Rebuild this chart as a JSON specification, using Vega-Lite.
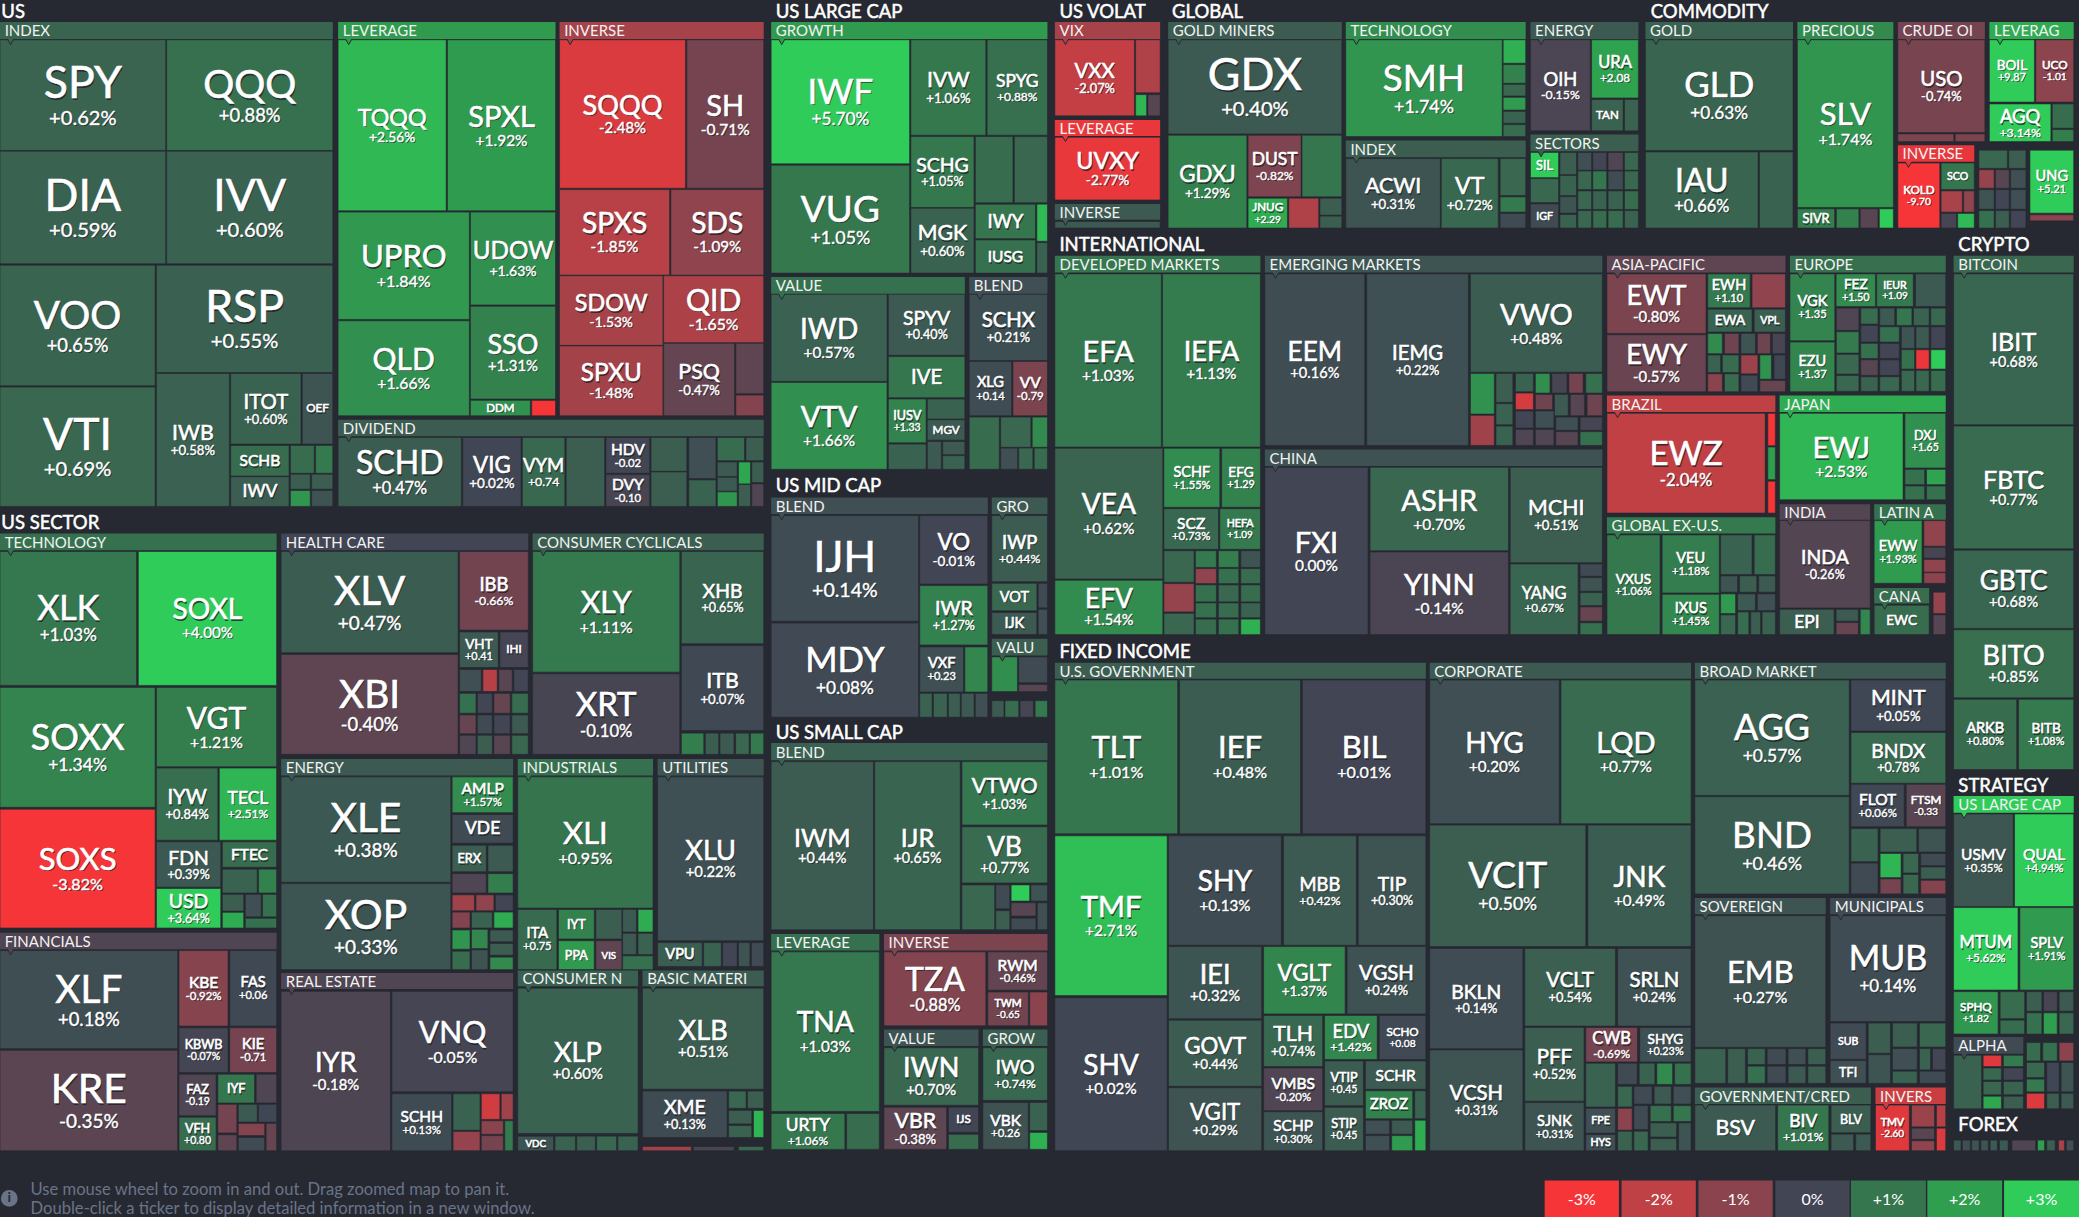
{"$schema":"https://vega.github.io/schema/vega-lite/v6.json","width":2079,"height":1217,"padding":0,"autosize":{"type":"none"},"background":"#262931","config":{"view":{"stroke":null},"font":"Lato"},
"datasets":{
"tiles":[
{"n":"SPY","p":"+0.62%","v":0.62,"x":0,"xe":125,"y":30,"ye":113.5,"s":46},
{"n":"QQQ","p":"+0.88%","v":0.88,"x":125.7,"xe":251,"y":30,"ye":113.5,"s":40},
{"n":"DIA","p":"+0.59%","v":0.59,"x":0,"xe":125,"y":114,"ye":199,"s":46},
{"n":"IVV","p":"+0.60%","v":0.6,"x":125.7,"xe":251,"y":114,"ye":199,"s":46},
{"n":"VOO","p":"+0.65%","v":0.65,"x":0,"xe":117,"y":200,"ye":291,"s":40},
{"n":"RSP","p":"+0.55%","v":0.55,"x":118,"xe":251,"y":200,"ye":281,"s":46},
{"n":"VTI","p":"+0.69%","v":0.69,"x":0,"xe":117,"y":292,"ye":382,"s":46},
{"n":"IWB","p":"+0.58%","v":0.58,"x":118,"xe":173,"y":281.7,"ye":382,"s":22},
{"n":"ITOT","p":"+0.60%","v":0.6,"x":174,"xe":227,"y":281.7,"ye":335,"s":21},
{"n":"OEF","v":0.3,"x":228,"xe":251,"y":281.7,"ye":335,"s":12},
{"n":"SCHB","v":0.8,"x":174,"xe":218,"y":336,"ye":359,"s":16},
{"v":0.8,"x":219,"xe":237,"y":336,"ye":357},
{"v":1.1,"x":238,"xe":251,"y":336,"ye":357},
{"n":"IWV","v":0.5,"x":174,"xe":218,"y":359.7,"ye":382,"s":18},
{"v":0.5,"x":219,"xe":234,"y":357.7,"ye":369},
{"v":1.8,"x":219,"xe":234,"y":370,"ye":382},
{"v":0.5,"x":235,"xe":251,"y":357.7,"ye":369},
{"v":0.3,"x":235,"xe":251,"y":370,"ye":382},
{"n":"TQQQ","p":"+2.56%","v":2.56,"x":255,"xe":336.5,"y":30,"ye":159,"s":24},
{"n":"SPXL","p":"+1.92%","v":1.92,"x":337.5,"xe":419,"y":30,"ye":159,"s":30},
{"n":"UPRO","p":"+1.84%","v":1.84,"x":255,"xe":354,"y":160,"ye":241,"s":32},
{"n":"QLD","p":"+1.66%","v":1.66,"x":255,"xe":354,"y":242,"ye":313.6,"s":31},
{"n":"UDOW","p":"+1.63%","v":1.63,"x":354.8,"xe":419,"y":160,"ye":230,"s":25},
{"n":"SSO","p":"+1.31%","v":1.31,"x":354.8,"xe":419,"y":231,"ye":301,"s":28},
{"n":"DDM","v":1.7,"x":354.8,"xe":400,"y":302,"ye":313.6,"s":12},
{"v":-3,"x":401,"xe":419,"y":302,"ye":313.6},
{"n":"SQQQ","p":"-2.48%","v":-2.48,"x":422,"xe":517,"y":30,"ye":142,"s":28},
{"n":"SH","p":"-0.71%","v":-0.71,"x":518,"xe":576,"y":30,"ye":142,"s":30},
{"n":"SPXS","p":"-1.85%","v":-1.85,"x":422,"xe":505,"y":143,"ye":207.5,"s":29},
{"n":"SDS","p":"-1.09%","v":-1.09,"x":506,"xe":576,"y":143,"ye":207.5,"s":29},
{"n":"SDOW","p":"-1.53%","v":-1.53,"x":422,"xe":500,"y":208,"ye":260.5,"s":24},
{"n":"QID","p":"-1.65%","v":-1.65,"x":500.5,"xe":576,"y":208,"ye":258.5,"s":31},
{"n":"SPXU","p":"-1.48%","v":-1.48,"x":422,"xe":500,"y":261,"ye":313.6,"s":25},
{"n":"PSQ","p":"-0.47%","v":-0.47,"x":500.5,"xe":554,"y":259,"ye":313.6,"s":22},
{"v":-0.4,"x":555,"xe":576,"y":259,"ye":297},
{"v":-0.9,"x":555,"xe":576,"y":298,"ye":313.6},
{"n":"SCHD","p":"+0.47%","v":0.47,"x":255,"xe":348,"y":330,"ye":382,"s":33},
{"n":"VIG","p":"+0.02%","v":0.02,"x":349,"xe":393,"y":330,"ye":382,"s":23},
{"n":"VYM","p":"+0.74","v":0.74,"x":394,"xe":426,"y":330,"ye":382,"s":19},
{"v":0.5,"x":427,"xe":456,"y":330,"ye":382},
{"n":"HDV","p":"-0.02","v":-0.02,"x":457,"xe":490,"y":330,"ye":357,"s":16},
{"n":"DVY","p":"-0.10","v":-0.1,"x":457,"xe":490,"y":358,"ye":382,"s":16},
{"v":0.5,"x":491,"xe":518,"y":330,"ye":355.5},
{"v":0.5,"x":491,"xe":518,"y":356,"ye":382},
{"v":0.2,"x":519.5,"xe":540,"y":330,"ye":361},
{"v":0.6,"x":519.5,"xe":540,"y":362,"ye":382},
{"v":0.8,"x":541,"xe":561.5,"y":330,"ye":347.5},
{"v":0.5,"x":562.6,"xe":576,"y":330,"ye":347.5},
{"v":0.4,"x":541,"xe":556,"y":348.5,"ye":359.5},
{"v":0.4,"x":541,"xe":556,"y":360,"ye":370.5},
{"v":1.8,"x":541,"xe":556,"y":371,"ye":382},
{"v":2.2,"x":557,"xe":566,"y":348.5,"ye":365},
{"v":0.5,"x":557,"xe":566,"y":365.5,"ye":382},
{"v":0.5,"x":567,"xe":576,"y":348.5,"ye":364},
{"v":-0.2,"x":567,"xe":576,"y":365,"ye":382},
{"n":"IWF","p":"+5.70%","v":5.7,"x":581.6,"xe":686,"y":30,"ye":123.6,"s":36},
{"n":"VUG","p":"+1.05%","v":1.05,"x":581.6,"xe":686,"y":124.6,"ye":206,"s":38},
{"n":"IVW","p":"+1.06%","v":1.06,"x":687,"xe":743.5,"y":30,"ye":102,"s":22},
{"n":"SPYG","p":"+0.88%","v":0.88,"x":744.5,"xe":790,"y":30,"ye":102,"s":18},
{"n":"SCHG","p":"+1.05%","v":1.05,"x":687,"xe":734.6,"y":103,"ye":156.5,"s":20},
{"n":"MGK","p":"+0.60%","v":0.6,"x":687,"xe":734.6,"y":157,"ye":206,"s":22},
{"v":0.8,"x":735.6,"xe":764,"y":103,"ye":153},
{"v":0.7,"x":765,"xe":790,"y":103,"ye":153},
{"n":"IWY","v":1.0,"x":735.6,"xe":781,"y":154,"ye":180,"s":19},
{"v":2.6,"x":782,"xe":790,"y":154,"ye":182},
{"n":"IUSG","v":0.9,"x":735.6,"xe":781,"y":181,"ye":206,"s":16},
{"v":0.6,"x":782,"xe":790,"y":183,"ye":206},
{"n":"IWD","p":"+0.57%","v":0.57,"x":581.6,"xe":669,"y":222,"ye":287.7,"s":29},
{"n":"VTV","p":"+1.66%","v":1.66,"x":581.6,"xe":669,"y":288.5,"ye":354,"s":30},
{"n":"SPYV","p":"+0.40%","v":0.4,"x":670,"xe":727.7,"y":222,"ye":268,"s":20},
{"n":"IVE","v":1.0,"x":670,"xe":727.7,"y":269,"ye":300,"s":21},
{"n":"IUSV","p":"+1.33","v":1.33,"x":670,"xe":698.5,"y":301,"ye":334,"s":13},
{"v":0.6,"x":670,"xe":698.5,"y":335,"ye":354},
{"v":0.6,"x":699.4,"xe":727.7,"y":301,"ye":316},
{"n":"MGV","v":0.4,"x":699.4,"xe":727.7,"y":316.6,"ye":332,"s":12},
{"v":0.4,"x":699.4,"xe":710,"y":333,"ye":354},
{"v":0.4,"x":711,"xe":727.7,"y":333,"ye":343},
{"v":0.6,"x":711,"xe":727.7,"y":343.7,"ye":354},
{"n":"SCHX","p":"+0.21%","v":0.21,"x":731,"xe":790,"y":222,"ye":272,"s":21},
{"n":"XLG","p":"+0.14","v":0.14,"x":731,"xe":763,"y":272.6,"ye":313.6,"s":15},
{"n":"VV","p":"-0.79","v":-0.79,"x":764,"xe":790,"y":272.6,"ye":313.6,"s":16},
{"v":0.8,"x":731,"xe":753.7,"y":314.6,"ye":354},
{"v":0.7,"x":754.7,"xe":777.5,"y":314.6,"ye":337.4},
{"v":1.5,"x":778.5,"xe":790,"y":314.6,"ye":337.4},
{"v":0.2,"x":754.7,"xe":767.5,"y":338,"ye":354},
{"v":0.7,"x":768.3,"xe":779,"y":338,"ye":354},
{"v":0.8,"x":780,"xe":790,"y":338,"ye":354},
{"n":"VXX","p":"-2.07%","v":-2.07,"x":795.6,"xe":855.6,"y":30,"ye":87.4,"s":21},
{"v":-1.7,"x":856.5,"xe":875,"y":30,"ye":70},
{"v":2.5,"x":856.5,"xe":864.8,"y":71.4,"ye":87.4},
{"v":-0.3,"x":865.8,"xe":875,"y":71.4,"ye":87.4},
{"n":"UVXY","p":"-2.77%","v":-2.77,"x":795.6,"xe":875,"y":103.5,"ye":150.8,"s":24},
{"v":0.4,"x":795.6,"xe":875,"y":167,"ye":172},
{"n":"GDX","p":"+0.40%","v":0.4,"x":881,"xe":1012,"y":30,"ye":101,"s":46},
{"n":"GDXJ","p":"+1.29%","v":1.29,"x":881,"xe":940.4,"y":102,"ye":172,"s":23},
{"n":"DUST","p":"-0.82%","v":-0.82,"x":941.3,"xe":981.3,"y":102,"ye":148.5,"s":18},
{"v":1.0,"x":982,"xe":1012,"y":102,"ye":148.5},
{"n":"JNUG","p":"+2.29","v":2.29,"x":941.3,"xe":971,"y":149.5,"ye":172,"s":12},
{"v":-1.7,"x":972,"xe":994.6,"y":149.5,"ye":172},
{"v":0.5,"x":995.5,"xe":1012,"y":149.5,"ye":162.3},
{"v":0.5,"x":995.5,"xe":1012,"y":163,"ye":172},
{"n":"SMH","p":"+1.74%","v":1.74,"x":1015,"xe":1133,"y":30,"ye":103,"s":38},
{"v":2.4,"x":1133.7,"xe":1150.7,"y":30,"ye":47.7},
{"v":1.3,"x":1133.7,"xe":1150.7,"y":48.7,"ye":62.8},
{"v":0.7,"x":1133.7,"xe":1150.7,"y":63.6,"ye":72.4},
{"v":1.9,"x":1133.7,"xe":1150.7,"y":73.4,"ye":83},
{"v":0.6,"x":1133.7,"xe":1150.7,"y":84,"ye":93},
{"v":0.8,"x":1133.7,"xe":1150.7,"y":94,"ye":103},
{"n":"ACWI","p":"+0.31%","v":0.31,"x":1015,"xe":1086.3,"y":119.6,"ye":172,"s":22},
{"n":"VT","p":"+0.72%","v":0.72,"x":1087,"xe":1130,"y":119.6,"ye":172,"s":24},
{"v":0.7,"x":1131.4,"xe":1150.7,"y":119.6,"ye":147.5},
{"v":1.1,"x":1131.4,"xe":1150.7,"y":148.5,"ye":160},
{"v":0.1,"x":1131.4,"xe":1150.7,"y":161,"ye":172},
{"n":"OIH","p":"-0.15%","v":-0.15,"x":1154.3,"xe":1199.4,"y":30,"ye":98.7,"s":19},
{"n":"URA","p":"+2.08","v":2.08,"x":1200.4,"xe":1235.7,"y":30,"ye":73.9,"s":17},
{"n":"TAN","v":0.6,"x":1200.4,"xe":1224.2,"y":75,"ye":98.7,"s":12},
{"v":0.6,"x":1225.2,"xe":1235.7,"y":75,"ye":98.7},
{"n":"SIL","v":3,"x":1154.3,"xe":1175.5,"y":115,"ye":134,"s":13},
{"v":0.7,"x":1154.3,"xe":1175.5,"y":134.7,"ye":152.8},
{"n":"IGF","v":0.1,"x":1154.3,"xe":1175.5,"y":153.8,"ye":172,"s":11},
{"v":0.5,"x":1176.5,"xe":1189,"y":115,"ye":131.7},
{"v":0.6,"x":1176.5,"xe":1189,"y":132.4,"ye":147.5},
{"v":0.3,"x":1176.5,"xe":1189,"y":148.3,"ye":160.8},
{"v":0.6,"x":1176.5,"xe":1189,"y":161.8,"ye":172},
{"v":0.2,"x":1190,"xe":1200.4,"y":115,"ye":128.4},
{"v":0.0,"x":1201.3,"xe":1211.8,"y":115,"ye":128.4},
{"v":-0.2,"x":1212.8,"xe":1224.2,"y":115,"ye":128.4},
{"v":0.7,"x":1225.2,"xe":1235.7,"y":115,"ye":128.4},
{"v":0.7,"x":1190,"xe":1200.4,"y":129,"ye":143},
{"v":1.0,"x":1201.3,"xe":1211.8,"y":129,"ye":143},
{"v":0.15,"x":1212.8,"xe":1224.2,"y":129,"ye":143},
{"v":0.7,"x":1225.2,"xe":1235.7,"y":129,"ye":143},
{"v":0.7,"x":1190,"xe":1200.4,"y":144,"ye":158},
{"v":0.6,"x":1201.3,"xe":1211.8,"y":144,"ye":158},
{"v":0.6,"x":1212.8,"xe":1224.2,"y":144,"ye":158},
{"v":0.8,"x":1225.2,"xe":1235.7,"y":144,"ye":158},
{"v":0.7,"x":1190,"xe":1200.4,"y":158.8,"ye":172},
{"v":0.8,"x":1201.3,"xe":1211.8,"y":158.8,"ye":172},
{"v":0.8,"x":1212.8,"xe":1224.2,"y":158.8,"ye":172},
{"v":0.6,"x":1225.2,"xe":1235.7,"y":158.8,"ye":172},
{"n":"GLD","p":"+0.63%","v":0.63,"x":1241,"xe":1352.3,"y":30,"ye":113.6,"s":36},
{"n":"IAU","p":"+0.66%","v":0.66,"x":1241,"xe":1326,"y":114.6,"ye":172,"s":33},
{"v":0.6,"x":1327,"xe":1352.3,"y":114.6,"ye":172},
{"n":"SLV","p":"+1.74%","v":1.74,"x":1355.6,"xe":1428,"y":30,"ye":156.5,"s":32},
{"n":"SIVR","v":1.2,"x":1355.6,"xe":1383.7,"y":157.5,"ye":172,"s":13},
{"v":1.3,"x":1385,"xe":1402,"y":157.5,"ye":172},
{"v":-0.3,"x":1403,"xe":1416.4,"y":157.5,"ye":172},
{"v":3,"x":1417.4,"xe":1428,"y":157.5,"ye":172},
{"n":"USO","p":"-0.74%","v":-0.74,"x":1431.4,"xe":1497,"y":30,"ye":100,"s":21},
{"v":-0.8,"x":1431.4,"xe":1473.6,"y":101,"ye":106.8},
{"v":-0.8,"x":1474.6,"xe":1497,"y":101,"ye":106.8},
{"n":"BOIL","p":"+9.87","v":9.87,"x":1500.4,"xe":1534.4,"y":30,"ye":77,"s":14},
{"n":"UCO","p":"-1.01","v":-1.01,"x":1535.4,"xe":1564,"y":30,"ye":77,"s":12},
{"n":"AGQ","p":"+3.14%","v":3.14,"x":1500.4,"xe":1546.8,"y":78.4,"ye":106.8,"s":19},
{"v":0.8,"x":1547.8,"xe":1564,"y":78.4,"ye":96.7},
{"v":1.2,"x":1547.8,"xe":1564,"y":97.7,"ye":106.8},
{"n":"KOLD","p":"-9.70","v":-9.7,"x":1431.4,"xe":1463,"y":123,"ye":172,"s":12},
{"n":"SCO","v":1.0,"x":1464,"xe":1489,"y":123,"ye":143,"s":11},
{"v":-1.6,"x":1464,"xe":1480,"y":144,"ye":160},
{"v":-1.1,"x":1481,"xe":1489,"y":144,"ye":160},
{"v":-0.1,"x":1464,"xe":1475.6,"y":161,"ye":172},
{"v":2.6,"x":1476.5,"xe":1489,"y":161,"ye":172},
{"v":0.7,"x":1492.5,"xe":1514,"y":113.3,"ye":127},
{"v":0.5,"x":1515,"xe":1528,"y":113.3,"ye":127},
{"v":-1.2,"x":1492.5,"xe":1504,"y":128,"ye":142},
{"v":-0.3,"x":1505,"xe":1515.4,"y":128,"ye":142},
{"v":0.2,"x":1516.4,"xe":1528,"y":128,"ye":142},
{"v":0.3,"x":1492.5,"xe":1504,"y":143,"ye":157.8},
{"v":0.0,"x":1505,"xe":1515.4,"y":143,"ye":157.8},
{"v":0.2,"x":1516.4,"xe":1528,"y":143,"ye":157.8},
{"v":0.9,"x":1492.5,"xe":1504,"y":158.8,"ye":172},
{"v":0.5,"x":1505,"xe":1515.4,"y":158.8,"ye":172},
{"v":0.0,"x":1516.4,"xe":1528,"y":158.8,"ye":172},
{"n":"UNG","p":"+5.21","v":5.21,"x":1531,"xe":1564,"y":113.3,"ye":160.8,"s":15},
{"v":-1.0,"x":1531,"xe":1564,"y":162,"ye":166.6},
{"n":"EFA","p":"+1.03%","v":1.03,"x":795.6,"xe":875.9,"y":206.6,"ye":337.2,"s":30},
{"n":"IEFA","p":"+1.13%","v":1.13,"x":876.8,"xe":950.6,"y":206.6,"ye":337.2,"s":28},
{"n":"VEA","p":"+0.62%","v":0.62,"x":795.6,"xe":877,"y":338.2,"ye":436.7,"s":29},
{"n":"EFV","p":"+1.54%","v":1.54,"x":795.6,"xe":877,"y":437.7,"ye":478.7,"s":27},
{"n":"SCHF","p":"+1.55%","v":1.55,"x":877.8,"xe":920,"y":338.2,"ye":382.7,"s":15},
{"n":"EFG","p":"+1.29","v":1.29,"x":921.4,"xe":950.6,"y":338.2,"ye":382.7,"s":14},
{"n":"SCZ","p":"+0.73%","v":0.73,"x":877.8,"xe":919,"y":383.7,"ye":414.4,"s":16},
{"n":"HEFA","p":"+1.09","v":1.09,"x":920,"xe":950.6,"y":383.7,"ye":414.4,"s":11},
{"v":0.7,"x":877.8,"xe":900.6,"y":415.4,"ye":439.2},
{"v":-1.2,"x":877.8,"xe":900.6,"y":440.2,"ye":461.6},
{"v":0.7,"x":877.8,"xe":900.6,"y":462.6,"ye":478.7},
{"v":1.1,"x":901.6,"xe":917.4,"y":415.4,"ye":428},
{"v":1.2,"x":918.9,"xe":934.3,"y":415.4,"ye":428},
{"v":0.3,"x":935.8,"xe":950.6,"y":415.4,"ye":428},
{"v":-1.1,"x":901.6,"xe":917.4,"y":428.9,"ye":440.2},
{"v":0.9,"x":918.9,"xe":934.3,"y":428.9,"ye":440.2},
{"v":0.8,"x":935.8,"xe":950.6,"y":428.9,"ye":440.2},
{"v":0.9,"x":901.6,"xe":917.4,"y":441.2,"ye":454},
{"v":0.7,"x":918.9,"xe":934.3,"y":441.2,"ye":454},
{"v":0.8,"x":935.8,"xe":950.6,"y":441.2,"ye":454},
{"v":0.9,"x":901.6,"xe":917.4,"y":454.8,"ye":466},
{"v":0.8,"x":918.9,"xe":934.3,"y":454.8,"ye":466},
{"v":0.6,"x":935.8,"xe":950.6,"y":454.8,"ye":466},
{"v":0.8,"x":901.6,"xe":917.4,"y":467,"ye":478.7},
{"v":0.9,"x":918.9,"xe":934.3,"y":467,"ye":478.7},
{"v":2.4,"x":935.8,"xe":950.6,"y":467,"ye":478.7},
{"n":"EEM","p":"+0.16%","v":0.16,"x":954,"xe":1029.3,"y":206.6,"ye":336,"s":27},
{"n":"IEMG","p":"+0.22%","v":0.22,"x":1030.8,"xe":1107.5,"y":206.6,"ye":336,"s":21},
{"n":"VWO","p":"+0.48%","v":0.48,"x":1109,"xe":1208.5,"y":206.6,"ye":280.7,"s":30},
{"v":1.7,"x":1109,"xe":1127,"y":281.7,"ye":312.3},
{"v":-1.4,"x":1109,"xe":1127,"y":313.3,"ye":336},
{"v":0.5,"x":1128.3,"xe":1141,"y":281.7,"ye":303.5},
{"v":0.6,"x":1128.3,"xe":1141,"y":304.5,"ye":320.4},
{"v":0.6,"x":1128.3,"xe":1141,"y":321.4,"ye":336},
{"v":0.6,"x":1143,"xe":1156.5,"y":281.7,"ye":295.5},
{"v":-2.4,"x":1143,"xe":1156.5,"y":296.5,"ye":309},
{"v":0.0,"x":1143,"xe":1156.5,"y":310,"ye":322.9},
{"v":-0.2,"x":1143,"xe":1156.5,"y":323.9,"ye":336},
{"v":1.6,"x":1158,"xe":1169,"y":281.7,"ye":296.5},
{"v":-0.1,"x":1170.4,"xe":1181.8,"y":281.7,"ye":296.5},
{"v":-0.7,"x":1183.3,"xe":1194,"y":281.7,"ye":296.5},
{"v":0.9,"x":1196,"xe":1208.5,"y":281.7,"ye":296.5},
{"v":-0.6,"x":1158,"xe":1171,"y":297.5,"ye":309},
{"v":0.2,"x":1158,"xe":1172,"y":310,"ye":322.9},
{"v":-0.2,"x":1158,"xe":1172,"y":323.9,"ye":336},
{"v":0.4,"x":1172.4,"xe":1182.8,"y":297.5,"ye":313.6},
{"v":-0.3,"x":1184.3,"xe":1195,"y":297.5,"ye":313.6},
{"v":-0.6,"x":1197,"xe":1208.5,"y":297.5,"ye":313.6},
{"v":0.2,"x":1173.4,"xe":1190.2,"y":314.6,"ye":324.6},
{"v":-0.3,"x":1173.4,"xe":1190.2,"y":325.6,"ye":336},
{"v":-0.05,"x":1191.7,"xe":1208.5,"y":314.6,"ye":324.6},
{"v":0.9,"x":1191.7,"xe":1208.5,"y":325.6,"ye":336},
{"n":"FXI","p":"0.00%","v":0,"x":954,"xe":1031.8,"y":352.5,"ye":478.7,"s":30},
{"n":"ASHR","p":"+0.70%","v":0.7,"x":1033.3,"xe":1137.7,"y":352.5,"ye":415.4,"s":30},
{"n":"YINN","p":"-0.14%","v":-0.14,"x":1033.3,"xe":1137.7,"y":416.4,"ye":478.7,"s":30},
{"n":"MCHI","p":"+0.51%","v":0.51,"x":1139,"xe":1208.5,"y":352.5,"ye":424.4,"s":22},
{"n":"YANG","p":"+0.67%","v":0.67,"x":1139,"xe":1190.2,"y":425.4,"ye":478.7,"s":17},
{"v":0.1,"x":1191.7,"xe":1208.5,"y":425.4,"ye":434.7},
{"v":0.3,"x":1191.7,"xe":1208.5,"y":435.7,"ye":446},
{"v":0.6,"x":1191.7,"xe":1208.5,"y":447,"ye":456.8},
{"v":-0.5,"x":1191.7,"xe":1208.5,"y":457.8,"ye":468.6},
{"v":0.9,"x":1191.7,"xe":1208.5,"y":469.8,"ye":478.7},
{"n":"EWT","p":"-0.80%","v":-0.8,"x":1212,"xe":1286.7,"y":206.6,"ye":251.5,"s":28},
{"n":"EWY","p":"-0.57%","v":-0.57,"x":1212,"xe":1286.7,"y":252.5,"ye":295.5,"s":28},
{"n":"EWH","p":"+1.10","v":1.1,"x":1288,"xe":1320,"y":206.6,"ye":232.2,"s":15},
{"v":-1.1,"x":1321.4,"xe":1346.6,"y":206.6,"ye":232.2},
{"n":"EWA","v":0.6,"x":1288,"xe":1321.4,"y":233.2,"ye":250.5,"s":14},
{"n":"VPL","v":0.5,"x":1323,"xe":1346.6,"y":233.2,"ye":250.5,"s":11},
{"v":1.5,"x":1288,"xe":1299,"y":251.5,"ye":266.8},
{"v":-0.6,"x":1300.6,"xe":1311.5,"y":251.5,"ye":266.8},
{"v":0.3,"x":1313,"xe":1324,"y":251.5,"ye":266.8},
{"v":-0.6,"x":1325.4,"xe":1335.3,"y":251.5,"ye":266.8},
{"v":-0.1,"x":1336.7,"xe":1346.6,"y":251.5,"ye":266.8},
{"v":0.6,"x":1288,"xe":1297.7,"y":267.8,"ye":281},
{"v":0.8,"x":1299,"xe":1311.5,"y":267.8,"ye":281},
{"v":-1.3,"x":1313,"xe":1325.8,"y":267.8,"ye":282},
{"v":1.7,"x":1327.3,"xe":1336,"y":267.8,"ye":286},
{"v":0.05,"x":1338,"xe":1346.6,"y":267.8,"ye":286},
{"v":-1.0,"x":1288,"xe":1299,"y":282,"ye":295.5},
{"v":0.8,"x":1300.6,"xe":1311.5,"y":282,"ye":295.5},
{"v":0.1,"x":1313,"xe":1325.8,"y":283,"ye":295.5},
{"v":-0.5,"x":1327.3,"xe":1346.6,"y":287,"ye":295.5},
{"n":"VGK","p":"+1.35","v":1.35,"x":1350,"xe":1383.8,"y":206.6,"ye":257,"s":15},
{"n":"EZU","p":"+1.37","v":1.37,"x":1350,"xe":1383.8,"y":258,"ye":295.5,"s":15},
{"n":"FEZ","p":"+1.50","v":1.5,"x":1384.8,"xe":1414.5,"y":206.6,"ye":231.2,"s":14},
{"n":"IEUR","p":"+1.09","v":1.09,"x":1415.4,"xe":1443,"y":206.6,"ye":231.2,"s":11},
{"v":0.4,"x":1444.7,"xe":1467.5,"y":206.6,"ye":231.2},
{"v":-0.2,"x":1385,"xe":1402,"y":232.4,"ye":249.2},
{"v":1.1,"x":1385,"xe":1402,"y":250.2,"ye":266.3},
{"v":0.7,"x":1385,"xe":1402,"y":267.3,"ye":282.2},
{"v":0.7,"x":1385,"xe":1402,"y":283.2,"ye":295.2},
{"v":0.8,"x":1403.4,"xe":1416.4,"y":232.4,"ye":244.5},
{"v":0.0,"x":1403.4,"xe":1416.4,"y":245.5,"ye":258},
{"v":0.9,"x":1403.4,"xe":1416.4,"y":259,"ye":270.4},
{"v":-0.3,"x":1403.4,"xe":1416.4,"y":271.4,"ye":283.2},
{"v":0.6,"x":1403.4,"xe":1416.4,"y":284.2,"ye":295.2},
{"v":0.4,"x":1417.7,"xe":1429,"y":232.4,"ye":245.5},
{"v":0.9,"x":1417.7,"xe":1432.5,"y":246.5,"ye":258},
{"v":0.0,"x":1417.7,"xe":1432.5,"y":259,"ye":270.4},
{"v":0.0,"x":1417.7,"xe":1432.5,"y":271.4,"ye":283.2},
{"v":0.7,"x":1417.7,"xe":1432.5,"y":284.2,"ye":295.2},
{"v":1.0,"x":1430.4,"xe":1442,"y":232.4,"ye":245.5},
{"v":0.6,"x":1443.2,"xe":1455,"y":232.4,"ye":245.5},
{"v":0.7,"x":1456.2,"xe":1467.5,"y":232.4,"ye":245.5},
{"v":0.3,"x":1434,"xe":1444,"y":246.5,"ye":262.8},
{"v":0.4,"x":1445,"xe":1455,"y":246.5,"ye":262.8},
{"v":0.0,"x":1456.2,"xe":1467.5,"y":246.5,"ye":262.8},
{"v":0.9,"x":1434,"xe":1444,"y":263.8,"ye":278.4},
{"v":-2.8,"x":1445,"xe":1455,"y":263.8,"ye":278.4},
{"v":3,"x":1456.2,"xe":1467.5,"y":263.8,"ye":278.4},
{"v":0.7,"x":1434,"xe":1444,"y":279.4,"ye":295.2},
{"v":0.7,"x":1445,"xe":1455,"y":279.4,"ye":295.2},
{"v":0.8,"x":1456.2,"xe":1467.5,"y":279.4,"ye":295.2},
{"n":"EWZ","p":"-2.04%","v":-2.04,"x":1212,"xe":1331.3,"y":311.8,"ye":387,"s":34},
{"v":-3,"x":1333.3,"xe":1339,"y":311.8,"ye":336.2},
{"v":2,"x":1333.3,"xe":1339,"y":337.2,"ye":361.8},
{"v":-3,"x":1333.3,"xe":1339,"y":363,"ye":387},
{"n":"EWJ","p":"+2.53%","v":2.53,"x":1342.2,"xe":1435.3,"y":311.8,"ye":377,"s":30},
{"n":"DXJ","p":"+1.65","v":1.65,"x":1436.7,"xe":1467.5,"y":311.8,"ye":353,"s":13},
{"v":0.9,"x":1436.7,"xe":1451.6,"y":354,"ye":365.6},
{"v":0.9,"x":1436.7,"xe":1451.6,"y":366.6,"ye":377},
{"v":2.1,"x":1453,"xe":1467.5,"y":354,"ye":365.6},
{"v":0.9,"x":1453,"xe":1467.5,"y":366.6,"ye":377},
{"n":"VXUS","p":"+1.06%","v":1.06,"x":1212,"xe":1252,"y":403.5,"ye":478.7,"s":14},
{"n":"VEU","p":"+1.18%","v":1.18,"x":1253.6,"xe":1296.7,"y":403.5,"ye":447.3,"s":15},
{"n":"IXUS","p":"+1.45%","v":1.45,"x":1253.6,"xe":1296.7,"y":448.3,"ye":478.7,"s":15},
{"v":0.6,"x":1297.7,"xe":1321.4,"y":403.5,"ye":433.4},
{"v":0.8,"x":1323,"xe":1339,"y":403.5,"ye":433.4},
{"v":0.3,"x":1297.7,"xe":1310.5,"y":434.4,"ye":446.7},
{"v":0.5,"x":1312,"xe":1325,"y":434.4,"ye":446.7},
{"v":0.4,"x":1326.4,"xe":1339,"y":434.4,"ye":446.7},
{"v":1.9,"x":1297.7,"xe":1309,"y":448,"ye":462.8},
{"v":0.7,"x":1297.7,"xe":1309,"y":463.8,"ye":478.7},
{"v":0.4,"x":1310.5,"xe":1323.9,"y":448,"ye":460.6},
{"v":0.2,"x":1325.4,"xe":1339,"y":448,"ye":460.6},
{"v":0.8,"x":1310.5,"xe":1319,"y":461.6,"ye":478.7},
{"v":0.5,"x":1320.4,"xe":1327.8,"y":461.6,"ye":478.7},
{"v":0.6,"x":1329,"xe":1339,"y":461.6,"ye":478.7},
{"n":"INDA","p":"-0.26%","v":-0.26,"x":1342.2,"xe":1410.5,"y":392.7,"ye":458.6,"s":20},
{"n":"EPI","v":0.5,"x":1342.2,"xe":1383.3,"y":459.6,"ye":478.7,"s":18},
{"v":0.4,"x":1384.8,"xe":1401.6,"y":459.6,"ye":468.6},
{"v":-0.5,"x":1384.8,"xe":1401.6,"y":469.6,"ye":478.7},
{"v":1.4,"x":1403,"xe":1410.5,"y":459.6,"ye":478.7},
{"n":"EWW","p":"+1.93%","v":1.93,"x":1413.5,"xe":1449.6,"y":392.7,"ye":440,"s":15},
{"v":-1.1,"x":1451,"xe":1467.5,"y":392.7,"ye":412},
{"v":-0.1,"x":1451,"xe":1467.5,"y":412.8,"ye":421},
{"v":-1.1,"x":1451,"xe":1467.5,"y":422,"ye":431.5},
{"v":-1.0,"x":1451,"xe":1467.5,"y":432,"ye":440},
{"n":"EWC","v":0.8,"x":1413.5,"xe":1455,"y":456.5,"ye":478.7,"s":14},
{"v":-1.2,"x":1458,"xe":1467.5,"y":446.7,"ye":462.8},
{"v":-0.3,"x":1458,"xe":1467.5,"y":463.8,"ye":478.7},
{"n":"IBIT","p":"+0.68%","v":0.68,"x":1473.4,"xe":1564,"y":206.6,"ye":320.4,"s":26},
{"n":"FBTC","p":"+0.77%","v":0.77,"x":1473.4,"xe":1564,"y":321.4,"ye":414,"s":26},
{"n":"GBTC","p":"+0.68%","v":0.68,"x":1473.4,"xe":1564,"y":415,"ye":474,"s":27},
{"n":"BITO","p":"+0.85%","v":0.85,"x":1473.4,"xe":1564,"y":475,"ye":526.4,"s":28},
{"n":"ARKB","p":"+0.80%","v":0.8,"x":1473.4,"xe":1521,"y":527.5,"ye":580.5,"s":15},
{"n":"BITB","p":"+1.08%","v":1.08,"x":1522.4,"xe":1564,"y":527.5,"ye":580.5,"s":14},
{"n":"USMV","p":"+0.35%","v":0.35,"x":1473.4,"xe":1518.4,"y":614,"ye":683.8,"s":16},
{"n":"QUAL","p":"+4.94%","v":4.94,"x":1519.4,"xe":1564,"y":614,"ye":683.8,"s":16},
{"n":"MTUM","p":"+5.62%","v":5.62,"x":1473.4,"xe":1522,"y":684.6,"ye":746.8,"s":17},
{"n":"SPLV","p":"+1.91%","v":1.91,"x":1523.4,"xe":1564,"y":684.6,"ye":746.8,"s":15},
{"n":"SPHQ","p":"+1.82","v":1.82,"x":1473.4,"xe":1507,"y":748,"ye":780,"s":12},
{"v":0.8,"x":1508.5,"xe":1527,"y":748,"ye":768.4},
{"v":0.8,"x":1508.5,"xe":1527,"y":769.5,"ye":780},
{"v":0.5,"x":1528.4,"xe":1540,"y":748,"ye":762.8},
{"v":-0.1,"x":1541.2,"xe":1551.6,"y":748,"ye":762.8},
{"v":0.4,"x":1553,"xe":1564,"y":748,"ye":762.8},
{"v":0.9,"x":1528.4,"xe":1540,"y":764,"ye":780},
{"v":2,"x":1541.2,"xe":1551.6,"y":764,"ye":780},
{"v":0.7,"x":1553,"xe":1564,"y":764,"ye":780},
{"v":0.6,"x":1473.4,"xe":1494.5,"y":796,"ye":836.4},
{"v":-2.6,"x":1495.7,"xe":1509.5,"y":796,"ye":804.5},
{"v":1.1,"x":1511,"xe":1526,"y":796,"ye":804.5},
{"v":0.7,"x":1495.7,"xe":1509.5,"y":805.6,"ye":814.7},
{"v":0.0,"x":1511,"xe":1526,"y":805.6,"ye":814.7},
{"v":0.7,"x":1495.7,"xe":1509.5,"y":815.8,"ye":825.8},
{"v":0.6,"x":1511,"xe":1526,"y":815.8,"ye":825.8},
{"v":2.2,"x":1495.7,"xe":1509.5,"y":826.9,"ye":836.4},
{"v":0.5,"x":1511,"xe":1526,"y":826.9,"ye":836.4},
{"v":0.8,"x":1528.4,"xe":1539,"y":786.4,"ye":800.3},
{"v":0.9,"x":1540.7,"xe":1551.6,"y":786.4,"ye":800.3},
{"v":-1,"x":1553,"xe":1564,"y":786.4,"ye":800.3},
{"v":0.7,"x":1528.4,"xe":1542,"y":801.4,"ye":812.8},
{"v":1.1,"x":1528.4,"xe":1542,"y":814,"ye":823.6},
{"v":-2.5,"x":1528.4,"xe":1542,"y":824.7,"ye":836.4},
{"v":0.05,"x":1543.7,"xe":1553,"y":801.4,"ye":823.6},
{"v":0.3,"x":1554.5,"xe":1564,"y":801.4,"ye":823.6},
{"v":0.5,"x":1543.7,"xe":1553,"y":824.7,"ye":836.4},
{"v":0.4,"x":1554.5,"xe":1564,"y":824.7,"ye":836.4},
{"v":0.4,"x":1473.4,"xe":1479,"y":860,"ye":868},
{"v":0.2,"x":1480,"xe":1486,"y":860,"ye":868},
{"v":0.3,"x":1487,"xe":1492.7,"y":860,"ye":868},
{"v":0.3,"x":1494,"xe":1499.6,"y":860,"ye":868},
{"v":0.4,"x":1501,"xe":1506.4,"y":860,"ye":868},
{"v":0.4,"x":1508,"xe":1514.5,"y":860,"ye":868},
{"v":-0.2,"x":1517.4,"xe":1535.3,"y":860,"ye":868},
{"v":2,"x":1536.7,"xe":1542,"y":860,"ye":868},
{"v":0.5,"x":1543.7,"xe":1550,"y":860,"ye":868},
{"v":-1.6,"x":1552.6,"xe":1557,"y":860,"ye":868},
{"v":0.2,"x":1558.5,"xe":1564,"y":860,"ye":868},
{"n":"TLT","p":"+1.01%","v":1.01,"x":795.6,"xe":888.2,"y":513,"ye":629,"s":32},
{"n":"IEF","p":"+0.48%","v":0.48,"x":889.7,"xe":980.8,"y":513,"ye":629,"s":32},
{"n":"BIL","p":"+0.01%","v":0.01,"x":982.3,"xe":1075.4,"y":513,"ye":629,"s":32},
{"n":"TMF","p":"+2.71%","v":2.71,"x":795.6,"xe":880.3,"y":630.5,"ye":751,"s":30},
{"n":"SHV","p":"+0.02%","v":0.02,"x":795.6,"xe":880.3,"y":752.6,"ye":868,"s":29},
{"n":"SHY","p":"+0.13%","v":0.13,"x":881.3,"xe":966.4,"y":630.5,"ye":713,"s":29},
{"n":"MBB","p":"+0.42%","v":0.42,"x":968,"xe":1023,"y":630.5,"ye":713,"s":19},
{"n":"TIP","p":"+0.30%","v":0.3,"x":1024.4,"xe":1075.4,"y":630.5,"ye":713,"s":20},
{"n":"IEI","p":"+0.32%","v":0.32,"x":881.3,"xe":951.6,"y":714,"ye":768.4,"s":28},
{"n":"GOVT","p":"+0.44%","v":0.44,"x":881.3,"xe":951.6,"y":769.5,"ye":819.4,"s":23},
{"n":"VGIT","p":"+0.29%","v":0.29,"x":881.3,"xe":951.6,"y":820.5,"ye":868,"s":23},
{"n":"VGLT","p":"+1.37%","v":1.37,"x":953,"xe":1014.5,"y":714,"ye":764.8,"s":23},
{"n":"VGSH","p":"+0.24%","v":0.24,"x":1016,"xe":1075.4,"y":714,"ye":764.8,"s":21},
{"n":"TLH","p":"+0.74%","v":0.74,"x":953,"xe":997.6,"y":766,"ye":804.5,"s":22},
{"n":"EDV","p":"+1.42%","v":1.42,"x":999,"xe":1038.7,"y":766,"ye":799.2,"s":19},
{"n":"SCHO","p":"+0.08","v":0.08,"x":1040.2,"xe":1075.4,"y":766,"ye":799.2,"s":12},
{"n":"VMBS","p":"-0.20%","v":-0.2,"x":953,"xe":997.6,"y":805.6,"ye":837.8,"s":16},
{"n":"SCHP","p":"+0.30%","v":0.3,"x":953,"xe":997.6,"y":838.6,"ye":868,"s":16},
{"n":"VTIP","p":"+0.45","v":0.45,"x":999,"xe":1028.3,"y":800.3,"ye":834,"s":13},
{"n":"STIP","p":"+0.45","v":0.45,"x":999,"xe":1028.3,"y":835.3,"ye":868,"s":13},
{"n":"SCHR","v":0.4,"x":1029.8,"xe":1075.4,"y":800.3,"ye":821.7,"s":16},
{"n":"ZROZ","v":1.3,"x":1029.8,"xe":1065.5,"y":822.8,"ye":843.9,"s":15},
{"v":0.6,"x":1067,"xe":1075.4,"y":822.8,"ye":843.9},
{"v":0.2,"x":1029.8,"xe":1048,"y":845,"ye":855.5},
{"v":0.2,"x":1029.8,"xe":1048,"y":856.6,"ye":868},
{"v":0.4,"x":1049.6,"xe":1065.5,"y":845,"ye":855.5},
{"v":1.9,"x":1049.6,"xe":1065.5,"y":856.6,"ye":868},
{"v":2.3,"x":1067,"xe":1075.4,"y":845,"ye":868},
{"n":"HYG","p":"+0.20%","v":0.2,"x":1078.3,"xe":1176,"y":513,"ye":621.3,"s":29},
{"n":"LQD","p":"+0.77%","v":0.77,"x":1177.3,"xe":1275.4,"y":513,"ye":621.3,"s":30},
{"n":"VCIT","p":"+0.50%","v":0.5,"x":1078.3,"xe":1196,"y":622.4,"ye":714,"s":37},
{"n":"JNK","p":"+0.49%","v":0.49,"x":1197.6,"xe":1275.4,"y":622.4,"ye":714,"s":29},
{"n":"BKLN","p":"+0.14%","v":0.14,"x":1078.3,"xe":1148.6,"y":715.4,"ye":791,"s":20},
{"n":"VCSH","p":"+0.31%","v":0.31,"x":1078.3,"xe":1148.6,"y":792,"ye":868,"s":21},
{"n":"VCLT","p":"+0.54%","v":0.54,"x":1150,"xe":1218.4,"y":715.4,"ye":774,"s":21},
{"n":"SRLN","p":"+0.24%","v":0.24,"x":1220,"xe":1275.4,"y":715.4,"ye":774,"s":21},
{"n":"PFF","p":"+0.52%","v":0.52,"x":1150,"xe":1194.7,"y":775,"ye":830.6,"s":21},
{"n":"SJNK","p":"+0.31%","v":0.31,"x":1150,"xe":1194.7,"y":831.7,"ye":868,"s":15},
{"n":"CWB","p":"-0.69%","v":-0.69,"x":1196,"xe":1235,"y":775,"ye":801,"s":17},
{"n":"SHYG","p":"+0.23%","v":0.23,"x":1236.7,"xe":1275.4,"y":775,"ye":801,"s":14},
{"v":0.6,"x":1196,"xe":1218.4,"y":802,"ye":835},
{"n":"FPE","v":0.2,"x":1196,"xe":1218.4,"y":836,"ye":854.7,"s":11},
{"n":"HYS","v":0.2,"x":1196,"xe":1218.4,"y":855.8,"ye":868,"s":11},
{"v":0.1,"x":1220,"xe":1234.8,"y":802,"ye":818},
{"v":0.6,"x":1236.3,"xe":1248.1,"y":802,"ye":818},
{"v":1.5,"x":1249.6,"xe":1261.5,"y":802,"ye":818},
{"v":0.9,"x":1263,"xe":1275.4,"y":802,"ye":818},
{"v":0.7,"x":1220,"xe":1231,"y":819.4,"ye":835},
{"v":0.1,"x":1232.3,"xe":1246,"y":819.4,"ye":832.8},
{"v":0.4,"x":1247.6,"xe":1260.5,"y":819.4,"ye":832.8},
{"v":0.2,"x":1262,"xe":1275.4,"y":819.4,"ye":832.8},
{"v":-1,"x":1220,"xe":1231,"y":836,"ye":852.5},
{"v":0.6,"x":1220,"xe":1231,"y":853.3,"ye":868},
{"v":0.1,"x":1232.3,"xe":1243,"y":834,"ye":852},
{"v":0.7,"x":1232.3,"xe":1243,"y":853.3,"ye":868},
{"v":0.9,"x":1244.6,"xe":1260.5,"y":834,"ye":846},
{"v":1,"x":1262,"xe":1275.4,"y":834,"ye":846},
{"v":0.5,"x":1244.6,"xe":1264.5,"y":847,"ye":857.7},
{"v":0.5,"x":1244.6,"xe":1264.5,"y":858.9,"ye":868},
{"v":0.3,"x":1266,"xe":1275.4,"y":847,"ye":868},
{"n":"AGG","p":"+0.57%","v":0.57,"x":1278.3,"xe":1394.7,"y":513,"ye":600,"s":37},
{"n":"BND","p":"+0.46%","v":0.46,"x":1278.3,"xe":1394.7,"y":601,"ye":674.3,"s":38},
{"n":"MINT","p":"+0.05%","v":0.05,"x":1396,"xe":1467.5,"y":513,"ye":551.4,"s":22},
{"n":"BNDX","p":"+0.78%","v":0.78,"x":1396,"xe":1467.5,"y":552.5,"ye":590.8,"s":20},
{"n":"FLOT","p":"+0.06%","v":0.06,"x":1396,"xe":1436.2,"y":591.6,"ye":623.6,"s":16},
{"n":"FTSM","p":"-0.33","v":-0.33,"x":1437.7,"xe":1467.5,"y":591.6,"ye":623.6,"s":12},
{"v":0.6,"x":1396,"xe":1416.4,"y":625,"ye":650},
{"v":0.1,"x":1396,"xe":1416.4,"y":651,"ye":674.3},
{"v":0.5,"x":1418,"xe":1445.7,"y":625,"ye":642.7},
{"v":0.3,"x":1447,"xe":1467.5,"y":625,"ye":642.7},
{"v":2.5,"x":1418,"xe":1433.8,"y":643.8,"ye":662},
{"v":-0.7,"x":1418,"xe":1433.8,"y":663,"ye":674.3},
{"v":0.7,"x":1435.3,"xe":1447,"y":643.8,"ye":658.5},
{"v":0.7,"x":1435.3,"xe":1447,"y":659.6,"ye":674.3},
{"v":0.1,"x":1448.6,"xe":1467.5,"y":643.8,"ye":653},
{"v":0.5,"x":1448.6,"xe":1467.5,"y":654,"ye":663},
{"v":-0.9,"x":1448.6,"xe":1467.5,"y":664,"ye":674.3},
{"n":"EMB","p":"+0.27%","v":0.27,"x":1278.3,"xe":1377,"y":690.7,"ye":790,"s":32},
{"v":0.6,"x":1278.3,"xe":1301.6,"y":791,"ye":817.2},
{"v":0.5,"x":1303,"xe":1316.4,"y":791,"ye":817.2},
{"v":0.6,"x":1318,"xe":1331.3,"y":791,"ye":803},
{"v":0.9,"x":1318,"xe":1331.3,"y":804.2,"ye":817.2},
{"v":0.1,"x":1332.8,"xe":1347,"y":791,"ye":803},
{"v":0.1,"x":1332.8,"xe":1347,"y":804.2,"ye":817.2},
{"v":0.2,"x":1348.6,"xe":1362,"y":791,"ye":803},
{"v":0.4,"x":1348.6,"xe":1362,"y":804.2,"ye":817.2},
{"v":0.5,"x":1363.5,"xe":1377,"y":791,"ye":803},
{"v":0.5,"x":1363.5,"xe":1377,"y":804.2,"ye":817.2},
{"n":"MUB","p":"+0.14%","v":0.14,"x":1380.3,"xe":1467.5,"y":690.7,"ye":770.6,"s":35},
{"n":"SUB","v":0.1,"x":1380.3,"xe":1407.5,"y":771.7,"ye":799,"s":11},
{"n":"TFI","v":0.2,"x":1380.3,"xe":1407.5,"y":800,"ye":817.2,"s":13},
{"v":0.5,"x":1409,"xe":1425.8,"y":771.7,"ye":794.5},
{"v":0.3,"x":1409,"xe":1425.8,"y":795.6,"ye":817.2},
{"v":0.5,"x":1427.3,"xe":1446,"y":771.7,"ye":789.8},
{"v":0.2,"x":1427.3,"xe":1446,"y":791,"ye":807},
{"v":0.6,"x":1427.3,"xe":1446,"y":808,"ye":817.2},
{"v":0.7,"x":1447.7,"xe":1467.5,"y":771.7,"ye":789.8},
{"v":0.6,"x":1447.7,"xe":1456,"y":791,"ye":807},
{"v":0,"x":1457.5,"xe":1467.5,"y":791,"ye":807},
{"v":0.1,"x":1447.7,"xe":1467.5,"y":808,"ye":817.2},
{"n":"BSV","v":0.4,"x":1278.3,"xe":1339.2,"y":833.6,"ye":868,"s":22},
{"n":"BIV","p":"+1.01%","v":1.01,"x":1340.7,"xe":1379.3,"y":833.6,"ye":868,"s":18},
{"n":"BLV","v":0.5,"x":1381,"xe":1411,"y":833.6,"ye":854.4,"s":13},
{"v":0.4,"x":1381,"xe":1398,"y":855.5,"ye":868},
{"v":0.4,"x":1399.6,"xe":1411,"y":855.5,"ye":868},
{"n":"TMV","p":"-2.60","v":-2.6,"x":1414.5,"xe":1440,"y":833.6,"ye":868,"s":11},
{"v":-1.3,"x":1441.7,"xe":1459,"y":833.6,"ye":850},
{"v":-1.8,"x":1460.5,"xe":1467.5,"y":833.6,"ye":850},
{"v":-0.3,"x":1441.7,"xe":1459,"y":851,"ye":859.4},
{"v":-2.5,"x":1460.5,"xe":1467.5,"y":851,"ye":868},
{"v":-1.1,"x":1441.7,"xe":1459,"y":860.5,"ye":868},
{"n":"XLK","p":"+1.03%","v":1.03,"x":0,"xe":103,"y":416,"ye":517,"s":35},
{"n":"SOXL","p":"+4.00%","v":4,"x":104.3,"xe":208.6,"y":416,"ye":517,"s":29},
{"n":"SOXX","p":"+1.34%","v":1.34,"x":0,"xe":117,"y":518.5,"ye":609,"s":37},
{"n":"SOXS","p":"-3.82%","v":-3.82,"x":0,"xe":117,"y":610.4,"ye":700,"s":32},
{"n":"VGT","p":"+1.21%","v":1.21,"x":118,"xe":208.6,"y":518.5,"ye":578.4,"s":31},
{"n":"IYW","p":"+0.84%","v":0.84,"x":118,"xe":164.3,"y":579.4,"ye":633.8,"s":21},
{"n":"TECL","p":"+2.51%","v":2.51,"x":165.4,"xe":208.6,"y":579.4,"ye":633.8,"s":18},
{"n":"FDN","p":"+0.39%","v":0.39,"x":118,"xe":166.5,"y":635,"ye":669.2,"s":20},
{"n":"USD","p":"+3.64%","v":3.64,"x":118,"xe":166.5,"y":670.2,"ye":700,"s":20},
{"n":"FTEC","v":0.8,"x":167.7,"xe":208.6,"y":635,"ye":654.2,"s":16},
{"v":0.6,"x":167.7,"xe":194,"y":655.6,"ye":673.6},
{"v":1.3,"x":195,"xe":208.6,"y":655.6,"ye":673.6},
{"v":0.5,"x":167.7,"xe":183.8,"y":674.6,"ye":687.2},
{"v":2.3,"x":167.7,"xe":183.8,"y":688.2,"ye":700},
{"v":0.2,"x":185,"xe":197,"y":674.6,"ye":691.6},
{"v":0.9,"x":198,"xe":208.6,"y":674.6,"ye":691.6},
{"v":0.9,"x":185,"xe":208.6,"y":692.7,"ye":700},
{"n":"XLF","p":"+0.18%","v":0.18,"x":0,"xe":134,"y":717,"ye":791,"s":40},
{"n":"KRE","p":"-0.35%","v":-0.35,"x":0,"xe":134,"y":792.3,"ye":868,"s":42},
{"n":"KBE","p":"-0.92%","v":-0.92,"x":135,"xe":172,"y":717,"ye":774,"s":16},
{"n":"FAS","p":"+0.06","v":0.06,"x":173.3,"xe":208.6,"y":717,"ye":774,"s":15},
{"n":"KBWB","p":"-0.07%","v":-0.07,"x":135,"xe":172,"y":775.3,"ye":809,"s":13},
{"n":"KIE","p":"-0.71","v":-0.71,"x":173.3,"xe":208.6,"y":775.3,"ye":809,"s":15},
{"n":"FAZ","p":"-0.19","v":-0.19,"x":135,"xe":163,"y":810.3,"ye":841.6,"s":13},
{"n":"VFH","p":"+0.80","v":0.8,"x":135,"xe":163,"y":842.7,"ye":868,"s":13},
{"n":"IYF","v":1.0,"x":164.3,"xe":192,"y":810.3,"ye":832,"s":13},
{"v":-0.2,"x":193.2,"xe":208.6,"y":810.3,"ye":832},
{"v":-0.7,"x":164.3,"xe":178.6,"y":833,"ye":854.6},
{"v":-0.4,"x":164.3,"xe":178.6,"y":856,"ye":868},
{"v":0.4,"x":179.7,"xe":194,"y":833,"ye":846.4},
{"v":0.05,"x":195,"xe":208.6,"y":833,"ye":846.4},
{"v":-0.9,"x":179.7,"xe":199.6,"y":847.4,"ye":856.6},
{"v":0.1,"x":179.7,"xe":199.6,"y":858,"ye":868},
{"v":-0.5,"x":200.7,"xe":208.6,"y":847.4,"ye":868},
{"n":"XLV","p":"+0.47%","v":0.47,"x":212,"xe":345.5,"y":416,"ye":492.3,"s":42},
{"n":"XBI","p":"-0.40%","v":-0.4,"x":212,"xe":345.5,"y":493.7,"ye":569,"s":40},
{"n":"IBB","p":"-0.66%","v":-0.66,"x":346.6,"xe":398.4,"y":416,"ye":475.3,"s":19},
{"n":"VHT","p":"+0.41","v":0.41,"x":346.6,"xe":375.8,"y":476.7,"ye":503.5,"s":14},
{"n":"IHI","v":-0.05,"x":377,"xe":398.4,"y":476.7,"ye":503.5,"s":12},
{"v":0.2,"x":346.6,"xe":363,"y":505,"ye":521.6},
{"v":-1.8,"x":364.2,"xe":375,"y":505,"ye":521.6},
{"v":-0.3,"x":376.2,"xe":386.3,"y":505,"ye":521.6},
{"v":0,"x":387.5,"xe":398.4,"y":505,"ye":521.6},
{"v":0.9,"x":346.6,"xe":359,"y":523,"ye":538},
{"v":0,"x":360,"xe":371.3,"y":523,"ye":538},
{"v":-0.5,"x":372.5,"xe":384.8,"y":523,"ye":538},
{"v":0.8,"x":386,"xe":398.4,"y":523,"ye":538},
{"v":-0.5,"x":346.6,"xe":359,"y":539.3,"ye":553.5},
{"v":0.1,"x":360,"xe":371.3,"y":539.3,"ye":553.5},
{"v":0,"x":372.5,"xe":384.8,"y":539.3,"ye":553.5},
{"v":0.4,"x":386,"xe":398.4,"y":539.3,"ye":553.5},
{"v":-0.2,"x":346.6,"xe":359,"y":554.6,"ye":569},
{"v":0.5,"x":360,"xe":371.3,"y":554.6,"ye":569},
{"v":-0.3,"x":372.5,"xe":384.8,"y":554.6,"ye":569},
{"v":0.7,"x":386,"xe":398.4,"y":554.6,"ye":569},
{"n":"XLY","p":"+1.11%","v":1.11,"x":401.7,"xe":512.7,"y":416,"ye":507,"s":31},
{"n":"XRT","p":"-0.10%","v":-0.1,"x":401.7,"xe":512.7,"y":508.3,"ye":569,"s":34},
{"n":"XHB","p":"+0.65%","v":0.65,"x":513.9,"xe":576,"y":416,"ye":485.5,"s":20},
{"n":"ITB","p":"+0.07%","v":0.07,"x":513.9,"xe":576,"y":487,"ye":551,"s":22},
{"v":1.2,"x":513.9,"xe":530.8,"y":553,"ye":569},
{"v":0.5,"x":532,"xe":542,"y":553,"ye":569},
{"v":0.4,"x":543,"xe":553.6,"y":553,"ye":569},
{"v":0.7,"x":554.8,"xe":565,"y":553,"ye":569},
{"v":1.1,"x":566,"xe":576,"y":553,"ye":569},
{"n":"XLE","p":"+0.38%","v":0.38,"x":212,"xe":340,"y":586,"ye":665.5,"s":42},
{"n":"XOP","p":"+0.33%","v":0.33,"x":212,"xe":340,"y":666.5,"ye":731.4,"s":42},
{"n":"AMLP","p":"+1.57%","v":1.57,"x":341,"xe":387,"y":586,"ye":613,"s":16},
{"n":"VDE","v":0.1,"x":341,"xe":387,"y":614.4,"ye":636,"s":18},
{"n":"ERX","v":0.5,"x":341,"xe":366.8,"y":637.6,"ye":657.6,"s":13},
{"v":0.4,"x":368,"xe":387,"y":637.6,"ye":657.6},
{"v":-0.2,"x":341,"xe":366.8,"y":659,"ye":673.6},
{"v":1.2,"x":368,"xe":387,"y":659,"ye":673.6},
{"v":-1.4,"x":341,"xe":357.8,"y":675,"ye":687},
{"v":-1.1,"x":359,"xe":372.5,"y":675,"ye":687},
{"v":0,"x":373.6,"xe":387,"y":675,"ye":687},
{"v":-0.9,"x":341,"xe":354.5,"y":688,"ye":700},
{"v":0.6,"x":355.6,"xe":371.3,"y":688,"ye":700},
{"v":2.3,"x":372.5,"xe":387,"y":688,"ye":700},
{"v":1.8,"x":341,"xe":354.5,"y":701.5,"ye":716},
{"v":1.4,"x":355.6,"xe":368,"y":701,"ye":715.5},
{"v":0.4,"x":369.5,"xe":387,"y":701.5,"ye":710.4},
{"v":0.5,"x":369.5,"xe":387,"y":711.7,"ye":720.5},
{"v":0.8,"x":341,"xe":354.5,"y":717.5,"ye":731.4},
{"v":0.3,"x":355.6,"xe":368,"y":716.5,"ye":731.4},
{"v":1.5,"x":369.5,"xe":387,"y":722,"ye":731.4},
{"n":"IYR","p":"-0.18%","v":-0.18,"x":212,"xe":294.5,"y":747.8,"ye":868,"s":28},
{"n":"VNQ","p":"-0.05%","v":-0.05,"x":295.6,"xe":387,"y":747.8,"ye":823.6,"s":31},
{"n":"SCHH","p":"+0.13%","v":0.13,"x":295.6,"xe":340.6,"y":825,"ye":868,"s":16},
{"v":0.6,"x":341.7,"xe":362,"y":825,"ye":852.5},
{"v":-1.2,"x":341.7,"xe":362,"y":853.5,"ye":868},
{"v":-2.3,"x":363,"xe":377,"y":825,"ye":844.4},
{"v":-1.4,"x":378,"xe":387,"y":825,"ye":844.4},
{"v":-1,"x":363,"xe":379.6,"y":845.4,"ye":855.6},
{"v":-0.7,"x":363,"xe":379.6,"y":856.6,"ye":868},
{"v":1.1,"x":380.7,"xe":387,"y":845.4,"ye":868},
{"n":"XLI","p":"+0.95%","v":0.95,"x":390.5,"xe":492.5,"y":586,"ye":685,"s":32},
{"n":"ITA","p":"+0.75","v":0.75,"x":390.5,"xe":420,"y":686,"ye":731.4,"s":15},
{"n":"IYT","v":1.3,"x":421.2,"xe":448.2,"y":686,"ye":708.3,"s":13},
{"n":"PPA","v":1.9,"x":421.2,"xe":448.2,"y":709.6,"ye":731.4,"s":13},
{"n":"VIS","v":-0.4,"x":449.4,"xe":469,"y":709.6,"ye":731.4,"s":10},
{"v":0.5,"x":449.4,"xe":469,"y":686,"ye":708.3},
{"v":0.4,"x":469.6,"xe":480,"y":686,"ye":703},
{"v":2.3,"x":481.2,"xe":492.5,"y":686,"ye":703},
{"v":0.4,"x":469.6,"xe":480,"y":704,"ye":720},
{"v":0.6,"x":481.2,"xe":492.5,"y":704,"ye":720},
{"v":0.9,"x":469.6,"xe":492.5,"y":721,"ye":731.4},
{"n":"XLU","p":"+0.22%","v":0.22,"x":496,"xe":576,"y":586,"ye":709.6,"s":28},
{"n":"VPU","v":0.5,"x":496,"xe":529.6,"y":711,"ye":729,"s":15},
{"v":0.6,"x":530.7,"xe":544,"y":711,"ye":729},
{"v":0,"x":545,"xe":556,"y":711,"ye":729},
{"v":0.3,"x":557,"xe":565.6,"y":711,"ye":729},
{"v":0.1,"x":566.7,"xe":576,"y":711,"ye":729},
{"n":"XLP","p":"+0.60%","v":0.6,"x":390.5,"xe":481.2,"y":745.4,"ye":855,"s":28},
{"n":"VDC","v":0.3,"x":390.5,"xe":417.5,"y":857,"ye":868,"s":10},
{"v":0.6,"x":418.6,"xe":434,"y":857,"ye":868},
{"v":0.5,"x":435,"xe":449,"y":857,"ye":868},
{"v":0.7,"x":450,"xe":465,"y":857,"ye":868},
{"v":0.6,"x":466,"xe":481.2,"y":857,"ye":868},
{"n":"XLB","p":"+0.51%","v":0.51,"x":484.6,"xe":576,"y":745.4,"ye":821.6,"s":28},
{"n":"XME","p":"+0.13%","v":0.13,"x":484.6,"xe":548.4,"y":823,"ye":858,"s":20},
{"v":0.7,"x":549.5,"xe":562.7,"y":823,"ye":836},
{"v":0.5,"x":563.8,"xe":576,"y":823,"ye":836},
{"v":0.5,"x":549.5,"xe":567,"y":837.6,"ye":847.8},
{"v":0.6,"x":549.5,"xe":567,"y":849,"ye":858},
{"v":2.5,"x":568.3,"xe":576,"y":837.6,"ye":858},
{"v":-1.4,"x":484.6,"xe":521.4,"y":864.8,"ye":868},
{"v":-0.1,"x":523,"xe":553.6,"y":864.8,"ye":868},
{"v":0.7,"x":557,"xe":576,"y":864.8,"ye":868},
{"n":"IJH","p":"+0.14%","v":0.14,"x":581.6,"xe":692.8,"y":388.9,"ye":468.6,"s":44},
{"n":"MDY","p":"+0.08%","v":0.08,"x":581.6,"xe":692.8,"y":470,"ye":541,"s":36},
{"n":"VO","p":"-0.01%","v":-0.01,"x":693.7,"xe":745,"y":388.9,"ye":440.6,"s":23},
{"n":"IWR","p":"+1.27%","v":1.27,"x":693.7,"xe":745,"y":441.7,"ye":486.5,"s":20},
{"n":"VXF","p":"+0.23","v":0.23,"x":693.7,"xe":726.7,"y":488,"ye":522,"s":15},
{"v":1.4,"x":727.7,"xe":745,"y":488,"ye":522},
{"v":0.6,"x":693.7,"xe":703,"y":523,"ye":541},
{"v":0.6,"x":704,"xe":714.4,"y":523,"ye":541},
{"v":0.5,"x":715.3,"xe":724.2,"y":523,"ye":541},
{"v":0.4,"x":725,"xe":734.7,"y":523,"ye":541},
{"v":0.2,"x":735.6,"xe":745,"y":523,"ye":541},
{"n":"IWP","p":"+0.44%","v":0.44,"x":748,"xe":790,"y":388.9,"ye":438.8,"s":19},
{"n":"VOT","v":0.7,"x":748,"xe":782,"y":440,"ye":460.7,"s":15},
{"n":"IJK","v":0.4,"x":748,"xe":782,"y":462,"ye":478.6,"s":15},
{"v":0.1,"x":783,"xe":790,"y":440,"ye":458.5},
{"v":0.2,"x":783,"xe":790,"y":459.6,"ye":478.6},
{"v":1.6,"x":748,"xe":767.4,"y":495.5,"ye":521.7},
{"v":0.1,"x":768.3,"xe":790,"y":495.5,"ye":515},
{"v":-0.3,"x":768.3,"xe":790,"y":516.3,"ye":521.7},
{"v":0.4,"x":748,"xe":757.2,"y":528.5,"ye":541},
{"v":0.8,"x":758,"xe":768.3,"y":528.5,"ye":541},
{"v":-0.05,"x":769.3,"xe":779.4,"y":528.5,"ye":541},
{"v":1.1,"x":780.7,"xe":790,"y":528.5,"ye":541},
{"n":"IWM","p":"+0.44%","v":0.44,"x":581.6,"xe":658.8,"y":574.5,"ye":701.3,"s":26},
{"n":"IJR","p":"+0.65%","v":0.65,"x":659.7,"xe":724.2,"y":574.5,"ye":701.3,"s":26},
{"n":"VTWO","p":"+1.03%","v":1.03,"x":725.5,"xe":790,"y":574.5,"ye":622.3,"s":22},
{"n":"VB","p":"+0.77%","v":0.77,"x":725.5,"xe":790,"y":623.7,"ye":666,"s":27},
{"v":0.7,"x":725.5,"xe":750.2,"y":667.5,"ye":701.3},
{"v":0.1,"x":751,"xe":761.6,"y":667.5,"ye":685.5},
{"v":3,"x":762.6,"xe":776.6,"y":667.5,"ye":679.7},
{"v":0.3,"x":777.5,"xe":790,"y":667.5,"ye":679.7},
{"v":0.5,"x":751,"xe":761.6,"y":686.9,"ye":701.3},
{"v":-0.3,"x":762.6,"xe":781.3,"y":681,"ye":691},
{"v":0.1,"x":762.6,"xe":781.3,"y":692.6,"ye":701.3},
{"v":0.2,"x":782.3,"xe":790,"y":681,"ye":701.3},
{"n":"TNA","p":"+1.03%","v":1.03,"x":581.6,"xe":663.2,"y":718,"ye":838.4,"s":29},
{"n":"URTY","p":"+1.06%","v":1.06,"x":581.6,"xe":637.2,"y":839.9,"ye":867,"s":18},
{"v":0.8,"x":638.5,"xe":663.2,"y":839.9,"ye":867},
{"n":"TZA","p":"-0.88%","v":-0.88,"x":666.7,"xe":743.5,"y":718,"ye":773.8,"s":33},
{"n":"RWM","p":"-0.46%","v":-0.46,"x":745,"xe":790,"y":718,"ye":746.9,"s":16},
{"n":"TWM","p":"-0.65","v":-0.65,"x":745,"xe":775.6,"y":748.3,"ye":773.8,"s":11},
{"v":-1,"x":776.6,"xe":790,"y":748.3,"ye":773.8},
{"n":"IWN","p":"+0.70%","v":0.7,"x":666.7,"xe":738,"y":790.3,"ye":833.7,"s":28},
{"n":"VBR","p":"-0.38%","v":-0.38,"x":666.7,"xe":714,"y":835.2,"ye":867,"s":22},
{"n":"IJS","v":0,"x":715.3,"xe":738,"y":835.2,"ye":854.2,"s":12},
{"v":0.8,"x":715.3,"xe":738,"y":855.6,"ye":867},
{"n":"IWO","p":"+0.74%","v":0.74,"x":741.3,"xe":790,"y":790.3,"ye":830,"s":19},
{"n":"VBK","p":"+0.26","v":0.26,"x":741.3,"xe":775.6,"y":831.6,"ye":867,"s":16},
{"v":0.6,"x":776.6,"xe":790,"y":831.6,"ye":852.8},
{"v":2.4,"x":776.6,"xe":790,"y":854.2,"ye":867}
],
"groups":[
{"n":"INDEX","v":0.65,"x":0,"xe":251,"y":16.6,"ye":29.4},
{"n":"LEVERAGE","v":1.9,"x":255,"xe":419,"y":16.6,"ye":29.4},
{"n":"INVERSE","v":-1.5,"x":422,"xe":576,"y":16.6,"ye":29.4},
{"n":"DIVIDEND","v":0.45,"x":255,"xe":576,"y":316.6,"ye":329},
{"n":"GROWTH","v":1.9,"x":581.6,"xe":790,"y":16.6,"ye":29.4},
{"n":"VALUE","v":0.9,"x":581.6,"xe":727.7,"y":209,"ye":221.6},
{"n":"BLEND","v":0.2,"x":731,"xe":790,"y":209,"ye":221.6},
{"n":"VIX","v":-1.5,"x":795.6,"xe":875,"y":16.6,"ye":29.4},
{"n":"LEVERAGE","v":-2.77,"x":795.6,"xe":875,"y":90.5,"ye":102.5},
{"n":"INVERSE","v":0.4,"x":795.6,"xe":875,"y":153.8,"ye":165.8},
{"n":"GOLD MINERS","v":0.45,"x":881,"xe":1012,"y":16.6,"ye":29.4},
{"n":"TECHNOLOGY","v":1.6,"x":1015,"xe":1150.7,"y":16.6,"ye":29.4},
{"n":"INDEX","v":0.5,"x":1015,"xe":1150.7,"y":106,"ye":118.6},
{"n":"ENERGY","v":0.4,"x":1154.3,"xe":1235.7,"y":16.6,"ye":29.4},
{"n":"SECTORS","v":0.5,"x":1154.3,"xe":1235.7,"y":101.5,"ye":114},
{"n":"GOLD","v":0.6,"x":1241,"xe":1352.3,"y":16.6,"ye":29.4},
{"n":"PRECIOUS","v":1.5,"x":1355.6,"xe":1428,"y":16.6,"ye":29.4},
{"n":"CRUDE OI","v":-0.7,"x":1431.4,"xe":1497,"y":16.6,"ye":29.4},
{"n":"LEVERAG","v":2.3,"x":1500.4,"xe":1564,"y":16.6,"ye":29.4},
{"n":"INVERSE","v":-2.7,"x":1431.4,"xe":1489,"y":109.5,"ye":122},
{"n":"DEVELOPED MARKETS","v":1,"x":795.6,"xe":950.6,"y":193,"ye":205.6},
{"n":"EMERGING MARKETS","v":0.3,"x":954,"xe":1208.5,"y":193,"ye":205.6},
{"n":"CHINA","v":0.25,"x":954,"xe":1208.5,"y":339,"ye":351.5},
{"n":"ASIA-PACIFIC","v":-0.4,"x":1212,"xe":1346.6,"y":193,"ye":205.6},
{"n":"EUROPE","v":0.85,"x":1350,"xe":1467.5,"y":193,"ye":205.6},
{"n":"BRAZIL","v":-2,"x":1212,"xe":1339,"y":298.3,"ye":310.8},
{"n":"JAPAN","v":2.3,"x":1342.2,"xe":1467.5,"y":298.3,"ye":310.8},
{"n":"GLOBAL EX-U.S.","v":1.1,"x":1212,"xe":1339,"y":390.2,"ye":402.5},
{"n":"INDIA","v":-0.25,"x":1342.2,"xe":1410.5,"y":380.4,"ye":392},
{"n":"LATIN A","v":0.9,"x":1413.5,"xe":1467.5,"y":380.4,"ye":392},
{"n":"CANA","v":0.8,"x":1413.5,"xe":1455,"y":443.5,"ye":455.3},
{"n":"BITCOIN","v":0.7,"x":1473.4,"xe":1564,"y":193,"ye":205.6},
{"n":"US LARGE CAP","v":3,"x":1473.4,"xe":1564,"y":600.5,"ye":613},
{"n":"ALPHA","v":0.1,"x":1473.4,"xe":1526,"y":782.3,"ye":794.8},
{"n":"U.S. GOVERNMENT","v":0.5,"x":795.6,"xe":1075.4,"y":500,"ye":512},
{"n":"CORPORATE","v":0.4,"x":1078.3,"xe":1275.4,"y":500,"ye":512},
{"n":"BROAD MARKET","v":0.4,"x":1278.3,"xe":1467.5,"y":500,"ye":512},
{"n":"SOVEREIGN","v":0.3,"x":1278.3,"xe":1377,"y":677.4,"ye":689.6},
{"n":"MUNICIPALS","v":0.1,"x":1380.3,"xe":1467.5,"y":677.4,"ye":689.6},
{"n":"GOVERNMENT/CRED","v":0.5,"x":1278.3,"xe":1411,"y":820.3,"ye":832.8},
{"n":"INVERS","v":-2.2,"x":1414.5,"xe":1467.5,"y":820.3,"ye":832.8},
{"n":"TECHNOLOGY","v":0.9,"x":0,"xe":208.6,"y":402.5,"ye":415},
{"n":"FINANCIALS","v":-0.2,"x":0,"xe":208.6,"y":703.5,"ye":716},
{"n":"HEALTH CARE","v":0,"x":212,"xe":398.4,"y":402.5,"ye":415},
{"n":"CONSUMER CYCLICALS","v":0.5,"x":401.7,"xe":576,"y":402.5,"ye":415},
{"n":"ENERGY","v":0.4,"x":212,"xe":387,"y":572.6,"ye":585},
{"n":"REAL ESTATE","v":-0.2,"x":212,"xe":387,"y":734,"ye":746},
{"n":"INDUSTRIALS","v":0.9,"x":390.5,"xe":492.5,"y":572.6,"ye":585},
{"n":"UTILITIES","v":0.3,"x":496,"xe":576,"y":572.6,"ye":585},
{"n":"CONSUMER N","v":0.55,"x":390.5,"xe":481.2,"y":732,"ye":744},
{"n":"BASIC MATERI","v":0.45,"x":484.6,"xe":576,"y":732,"ye":744},
{"n":"BLEND","v":0.2,"x":581.6,"xe":745,"y":375.2,"ye":387.8},
{"n":"GRO","v":0.4,"x":748,"xe":790,"y":375.2,"ye":387.8},
{"n":"VALU","v":0.5,"x":748,"xe":790,"y":481.9,"ye":494.4},
{"n":"BLEND","v":0.55,"x":581.6,"xe":790,"y":560.5,"ye":573.4},
{"n":"LEVERAGE","v":0.9,"x":581.6,"xe":663.2,"y":704.5,"ye":717},
{"n":"INVERSE","v":-0.8,"x":666.7,"xe":790,"y":704.5,"ye":717},
{"n":"VALUE","v":0.3,"x":666.7,"xe":738,"y":776.6,"ye":789},
{"n":"GROW","v":0.5,"x":741.3,"xe":790,"y":776.6,"ye":789}
],
"sections":[
{"n":"US","x":1,"y":8},{"n":"US LARGE CAP","x":585,"y":8},{"n":"US VOLAT","x":799,"y":8},{"n":"GLOBAL","x":884,"y":8},{"n":"COMMODITY","x":1245,"y":8},
{"n":"INTERNATIONAL","x":799,"y":184},{"n":"CRYPTO","x":1477,"y":184},{"n":"US SECTOR","x":1,"y":394},{"n":"US MID CAP","x":585,"y":366},{"n":"US SMALL CAP","x":585,"y":552},{"n":"FIXED INCOME","x":799,"y":491},{"n":"STRATEGY","x":1477,"y":592},{"n":"FOREX","x":1477,"y":848}
],
"legend":[
{"n":"-3%","v":-3,"x":1165,"xe":1221,"y":890.5,"ye":918},
{"n":"-2%","v":-2,"x":1223,"xe":1279,"y":890.5,"ye":918},
{"n":"-1%","v":-1,"x":1281,"xe":1337,"y":890.5,"ye":918},
{"n":"0%","v":0,"x":1339,"xe":1395,"y":890.5,"ye":918},
{"n":"+1%","v":1,"x":1396,"xe":1452.5,"y":890.5,"ye":918},
{"n":"+2%","v":2,"x":1453.6,"xe":1510,"y":890.5,"ye":918},
{"n":"+3%","v":3,"x":1511.5,"xe":1568,"y":890.5,"ye":918}
],
"notes":[
{"n":"Use mouse wheel to zoom in and out. Drag zoomed map to pan it.","x":23,"y":898},
{"n":"Double-click a ticker to display detailed information in a new window.","x":23,"y":912}
]
},
"layer":[
{"data":{"name":"tiles"},"mark":{"type":"rect","stroke":"#262931","strokeWidth":0.6},"encoding":{
"x":{"field":"x","type":"quantitative","scale":{"domain":[0,1568],"range":[0,2079],"nice":false,"zero":false},"axis":null},
"x2":{"field":"xe"},
"y":{"field":"y","type":"quantitative","scale":{"domain":[0,918],"range":[0,1217],"nice":false,"zero":false},"axis":null},
"y2":{"field":"ye"},
"color":{"field":"v","type":"quantitative","legend":null,"scale":{"domain":[-3,-2,-1,0,1,2,3],"range":["#f63538","#bf4045","#8b444e","#414554","#35764e","#2f9e4f","#30cc5a"],"clamp":true,"interpolate":"rgb"}}}},
{"data":{"name":"legend"},"mark":{"type":"rect"},"encoding":{"x":{"field":"x","type":"quantitative"},"x2":{"field":"xe"},"y":{"field":"y","type":"quantitative"},"y2":{"field":"ye"},"color":{"field":"v","type":"quantitative"}}},
{"data":{"name":"groups"},"transform":[{"calculate":"datum.x+8","as":"tx"}],"mark":{"type":"point","shape":"triangle-down","filled":true,"opacity":1,"size":170,"stroke":"#262931","strokeWidth":1},"encoding":{"x":{"field":"tx","type":"quantitative"},"y":{"field":"ye","type":"quantitative"},"color":{"field":"v","type":"quantitative"}}},
{"data":{"name":"groups"},"mark":{"type":"rect"},"encoding":{"x":{"field":"x","type":"quantitative"},"x2":{"field":"xe"},"y":{"field":"y","type":"quantitative"},"y2":{"field":"ye"},"color":{"field":"v","type":"quantitative"}}},
{"data":{"name":"groups"},"transform":[{"calculate":"datum.x+3.5","as":"tx"},{"calculate":"(datum.y+datum.ye)/2+0.7","as":"ty"}],"mark":{"type":"text","align":"left","baseline":"middle","font":"Lato","fontSize":15,"color":"#f2f2f2"},"encoding":{"x":{"field":"tx","type":"quantitative"},"y":{"field":"ty","type":"quantitative"},"text":{"field":"n"}}},
{"data":{"name":"sections"},"transform":[{"calculate":"datum.y+0.8","as":"ty"}],"mark":{"type":"text","align":"left","baseline":"middle","font":"Lato","fontSize":18.5,"color":"#ffffff","stroke":"#ffffff","strokeWidth":0.5},"encoding":{"x":{"field":"x","type":"quantitative"},"y":{"field":"ty","type":"quantitative"},"text":{"field":"n"}}},
{"data":{"name":"tiles"},"transform":[{"filter":"datum.n"},{"calculate":"(datum.x+datum.xe)/2","as":"cx"},{"calculate":"datum.p ? (datum.y+datum.ye)/2-(0.3*datum.s+7)*0.38+0.5 : (datum.y+datum.ye)/2+0.5","as":"ty"},{"calculate":"datum.s*0.97","as":"fs"}],"mark":{"type":"text","align":"center","baseline":"middle","font":"Lato","color":"#1b1d22","dx":1,"dy":1.5,"opacity":0.75},"encoding":{"x":{"field":"cx","type":"quantitative"},"y":{"field":"ty","type":"quantitative"},"text":{"field":"n"},"size":{"field":"fs","type":"quantitative","scale":null}}},
{"data":{"name":"tiles"},"transform":[{"filter":"datum.n"},{"calculate":"(datum.x+datum.xe)/2","as":"cx"},{"calculate":"datum.p ? (datum.y+datum.ye)/2-(0.3*datum.s+7)*0.38+0.5 : (datum.y+datum.ye)/2+0.5","as":"ty"},{"calculate":"datum.s*0.97","as":"fs"}],"mark":{"type":"text","align":"center","baseline":"middle","font":"Lato","color":"#ffffff","stroke":"#ffffff","strokeWidth":0.6},"encoding":{"x":{"field":"cx","type":"quantitative"},"y":{"field":"ty","type":"quantitative"},"text":{"field":"n"},"size":{"field":"fs","type":"quantitative","scale":null}}},
{"data":{"name":"tiles"},"transform":[{"filter":"datum.p"},{"calculate":"(datum.x+datum.xe)/2","as":"cx"},{"calculate":"(datum.y+datum.ye)/2+datum.s*0.38+0.3","as":"ty"},{"calculate":"0.29*datum.s+6.8","as":"ps"}],"mark":{"type":"text","align":"center","baseline":"middle","font":"Lato","color":"#1b1d22","dx":1,"dy":1,"opacity":0.75},"encoding":{"x":{"field":"cx","type":"quantitative"},"y":{"field":"ty","type":"quantitative"},"text":{"field":"p"},"size":{"field":"ps","type":"quantitative","scale":null}}},
{"data":{"name":"tiles"},"transform":[{"filter":"datum.p"},{"calculate":"(datum.x+datum.xe)/2","as":"cx"},{"calculate":"(datum.y+datum.ye)/2+datum.s*0.38+0.3","as":"ty"},{"calculate":"0.29*datum.s+6.8","as":"ps"}],"mark":{"type":"text","align":"center","baseline":"middle","font":"Lato","color":"#ffffff","stroke":"#ffffff","strokeWidth":0.4},"encoding":{"x":{"field":"cx","type":"quantitative"},"y":{"field":"ty","type":"quantitative"},"text":{"field":"p"},"size":{"field":"ps","type":"quantitative","scale":null}}},
{"data":{"name":"legend"},"transform":[{"calculate":"(datum.x+datum.xe)/2","as":"cx"},{"calculate":"(datum.y+datum.ye)/2+1","as":"ty"}],"mark":{"type":"text","align":"center","baseline":"middle","font":"Lato","fontSize":16,"color":"#ffffff"},"encoding":{"x":{"field":"cx","type":"quantitative"},"y":{"field":"ty","type":"quantitative"},"text":{"field":"n"}}},
{"data":{"name":"notes"},"mark":{"type":"text","align":"left","baseline":"middle","font":"Lato","fontSize":16.6,"color":"#6a7488"},"encoding":{"x":{"field":"x","type":"quantitative"},"y":{"field":"y","type":"quantitative"},"text":{"field":"n"}}},
{"data":{"values":[{"n":"i","x":7,"y":904}]},"mark":{"type":"point","shape":"circle","filled":true,"opacity":1,"size":280,"color":"#6a7488"},"encoding":{"x":{"field":"x","type":"quantitative"},"y":{"field":"y","type":"quantitative"}}},
{"data":{"values":[{"n":"i","x":7,"y":904}]},"mark":{"type":"text","align":"center","baseline":"middle","font":"Lato","fontWeight":"bold","fontSize":14,"color":"#262931"},"encoding":{"x":{"field":"x","type":"quantitative"},"y":{"field":"y","type":"quantitative"},"text":{"field":"n"}}}
],
"resolve":{"scale":{"color":"shared","x":"shared","y":"shared"}}
}
